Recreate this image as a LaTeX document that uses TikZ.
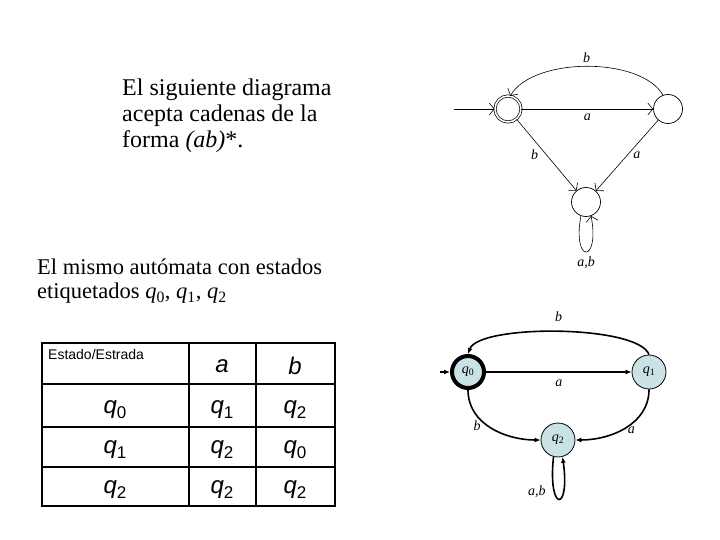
\documentclass[tikz,border=0pt]{standalone}
\usepackage{fontspec}
\setmainfont{Liberation Serif}
\newfontfamily\tablefont{Liberation Sans}
\usetikzlibrary{arrows.meta, positioning}
\newcommand{\qst}[1]{\textit{q}\textsubscript{#1}}
\newcommand{\qtab}[1]{\textit{q}\raisebox{-0.35ex}{\fontsize{17}{17}\selectfont #1}}
\definecolor{stateFill}{RGB}{200,226,230}
\definecolor{ink}{RGB}{0,0,0}
\tikzset{
  sketchState/.style={
    draw=ink,
    line width=0.7pt,
    circle,
    minimum size=29pt,
    inner sep=0pt
  },
  sketchAccept/.style={sketchState, double, double distance=1.6pt, minimum size=26pt},
  sketchEdge/.style={-{Straight Barb[length=5pt,width=12pt,line width=0.6pt]}, line width=0.6pt, draw=ink},
  sketchLabel/.style={font=\fontsize{14}{14}\selectfont\itshape, inner sep=2pt},
  qState/.style={
    draw=ink,
    line width=0.8pt,
    circle,
    fill=stateFill,
    minimum size=34pt,
    inner sep=0pt,
    font=\fontsize{14}{14}\selectfont
  },
  qStart/.style={qState, line width=4pt, minimum size=32pt},
  qEdge/.style={-{Latex[length=6pt,width=5pt]}, line width=1.6pt, draw=ink},
  qLabel/.style={font=\fontsize{14}{14}\selectfont\itshape, inner sep=2pt},
  tableRule/.style={line width=1.8pt, draw=ink},
  tableCell/.style={font=\tablefont\fontsize{24}{24}\selectfont, inner sep=0pt},
  prose/.style={align=left, inner sep=0pt, anchor=north west}
}
\begin{document}
\begin{tikzpicture}[x=1pt, y=-1pt]
  \useasboundingbox (0,0) rectangle (720,540);

  % explanatory texts
  \node[prose, font=\fontsize{24}{26}\selectfont] (intro) at (122,79)
    {El siguiente diagrama\\acepta cadenas de la\\forma \textit{(ab)}*.};
  \node[prose, font=\fontsize{22.5}{24}\selectfont] (same) at (37,259)
    {El mismo autómata con estados\\etiquetados \qst{0}, \qst{1}, \qst{2}};

  % transition table
  \draw[tableRule] (42,343) rectangle (335,506);
  \draw[tableRule] (189,343) -- (189,506);
  \draw[tableRule] (256,343) -- (256,506);
  \draw[tableRule] (42,384) -- (335,384);
  \draw[tableRule] (42,427) -- (335,427);
  \draw[tableRule] (42,467) -- (335,467);
  \node[font=\tablefont\fontsize{14}{14}\selectfont, anchor=north west, inner sep=0pt] (head) at (48,349) {Estado/Estrada};
  \node[tableCell] (headA) at (222,366) {\textit{a}};
  \node[tableCell] (headB) at (295,366) {\textit{b}};
  \node[tableCell] (r0) at (115,410) {\qtab{0}};
  \node[tableCell] (r0a) at (222,410) {\qtab{1}};
  \node[tableCell] (r0b) at (295,410) {\qtab{2}};
  \node[tableCell] (r1) at (115,450) {\qtab{1}};
  \node[tableCell] (r1a) at (222,450) {\qtab{2}};
  \node[tableCell] (r1b) at (295,450) {\qtab{0}};
  \node[tableCell] (r2) at (115,490) {\qtab{2}};
  \node[tableCell] (r2a) at (222,490) {\qtab{2}};
  \node[tableCell] (r2b) at (295,490) {\qtab{2}};

  % sketched automaton
  \coordinate (sketchIn) at (454,109);
  \node[sketchAccept] (aSt) at (508,109) {};
  \node[sketchState] (bSt) at (668,109) {};
  \node[sketchState] (cSt) at (586,202) {};

  \draw[sketchEdge] (sketchIn) -- (aSt);
  \draw[sketchEdge] (aSt) -- node[sketchLabel, below=3pt] {a} (bSt);
  \draw[sketchEdge] (bSt.110) to[out=120, in=60, looseness=0.75] node[sketchLabel, above=1pt] {b} (aSt.80);
  \draw[sketchEdge] (aSt) -- node[sketchLabel, left=6pt] {b} (cSt);
  \draw[sketchEdge] (bSt) -- node[sketchLabel, right=4pt] {a} (cSt);
  \draw[sketchEdge] (cSt.250) .. controls +(-9,48) and +(9,48) .. node[sketchLabel, below=3pt] {a,b} (cSt.290);

  % labelled automaton
  \coordinate (qIn) at (440,372);
  \node[qStart] (q0) at (468,372) {\qst{0}};
  \node[qState] (q1) at (649,372) {\qst{1}};
  \node[qState] (q2) at (558,440) {\qst{2}};

  \draw[qEdge] (qIn) -- (q0);
  \draw[qEdge] (q0) -- node[qLabel, below=5pt] {a} (q1);
  \draw[qEdge] (q1.north) to[out=110, in=70, looseness=0.45] node[qLabel, above=7pt] {b} (q0.north);
  \draw[qEdge] (q0.south) to[out=-90, in=180] node[qLabel, left=4pt, pos=0.45] {b} (q2.west);
  \draw[qEdge] (q1.south) to[out=-90, in=0] node[qLabel, right=4pt, pos=0.55] {a} (q2.east);
  \draw[qEdge] (q2.255) .. controls +(-6,56) and +(8,56) .. node[qLabel, left=6pt, pos=0.3] {a,b} (q2.285);
\end{tikzpicture}
\end{document}
